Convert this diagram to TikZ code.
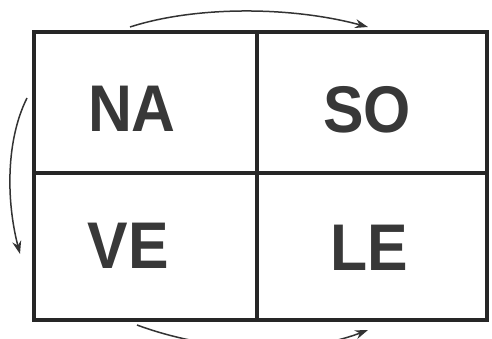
\documentclass[tikz,border=0pt]{standalone}
\usepackage{fontspec}
\setmainfont[FakeStretch=0.92]{Liberation Sans}
\usepackage{tikz}
\usetikzlibrary{positioning,arrows.meta}

\begin{document}
\begin{tikzpicture}[x=1pt, y=-1pt,
        cell/.style={rectangle, draw=black!85, line width=3.4pt, inner sep=0pt},
        word/.style={font=\bfseries\fontsize{66}{66}\selectfont, text=black!78, inner sep=0pt},
        arrow/.style={-{Stealth[length=13pt, width=9pt]}, line width=1.5pt, black!80}
    ]
    \useasboundingbox (0,0) rectangle (492,339);
    \node[cell, minimum width=223pt, minimum height=141pt] (na) at (145.5,102.5) {};
    \node[cell, minimum width=230pt, minimum height=141pt] (so) at (372,102.5) {};
    \node[cell, minimum width=223pt, minimum height=147pt] (ve) at (145.5,246.5) {};
    \node[cell, minimum width=230pt, minimum height=147pt] (le) at (372,246.5) {};
    \node[word] (tna) at (132,109) {NA};
    \node[word] (tso) at (367,110) {SO};
    \node[word] (tve) at (128,246) {VE};
    \node[word] (tle) at (369,248) {LE};
    % arcs round the square
    \coordinate (t1) at (130,27);
    \coordinate (t2) at (368,27);
    \coordinate (l1) at (27,98);
    \coordinate (l2) at (20,254);
    \coordinate (b1) at (137,325);
    \coordinate (b2) at (368,330);
    \draw[arrow] (t1) .. controls (195,6) and (290,6) .. (t2);
    \draw[arrow] (l1) .. controls (6,140) and (6,200) .. (l2);
    \draw[arrow] (b1) .. controls (210,352) and (300,356) .. (b2);
\end{tikzpicture}
\end{document}
